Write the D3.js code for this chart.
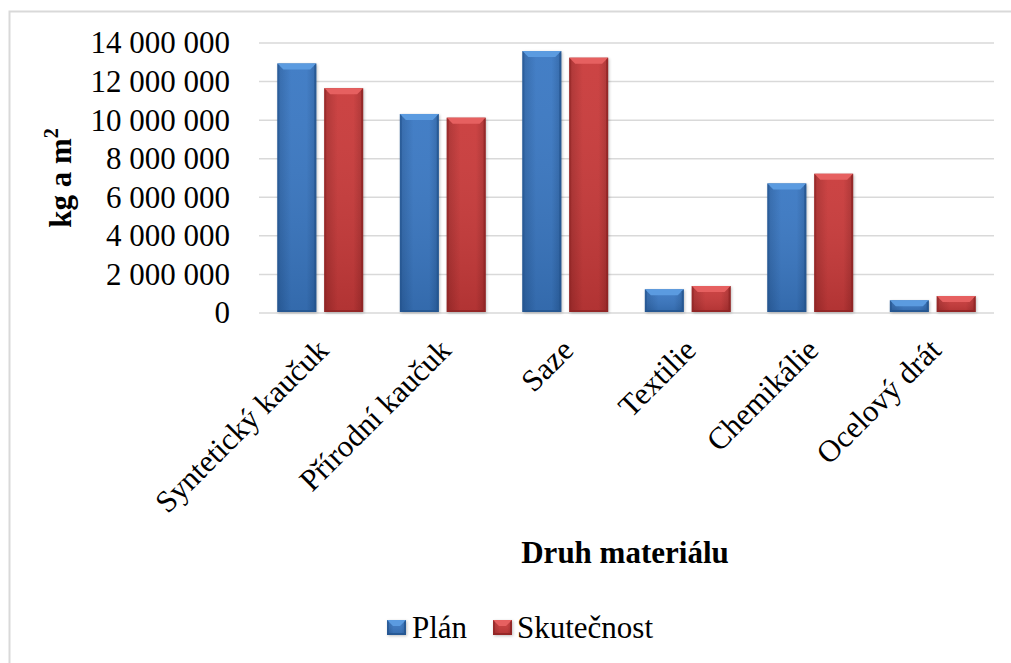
<!DOCTYPE html>
<html>
<head>
<meta charset="utf-8">
<script src="https://cdn.jsdelivr.net/npm/d3@7"></script>
<style>
  html, body { margin: 0; padding: 0; background: #fff; }
  svg { display: block; }
  svg text { font-family: 'Times New Roman', 'Liberation Serif', Tinos, 'DejaVu Serif', serif; fill: #000; }
</style>
</head>
<body>
<svg id="chart" width="1011" height="663"></svg>
<script>
// Material categories and yearly quantities (kg and m²)
const categories = ["Syntetický kaučuk", "Přírodní kaučuk", "Saze", "Textilie", "Chemikálie", "Ocelový drát"];
const seriesNames = ["Plán", "Skutečnost"];
const planValues = [12940000, 10320000, 13580000, 1230000, 6720000, 660000];
const actualValues = [11660000, 10130000, 13240000, 1400000, 7220000, 880000];
const yTicks = [0, 2000000, 4000000, 6000000, 8000000, 10000000, 12000000, 14000000];

const seriesValues = [planValues, actualValues];
const palette = [
  { base: "#3a78c3", light: "#5b9be0", dark: "#24558f", edge: "#2c63a6" },
  { base: "#c93a3a", light: "#e66060", dark: "#8f2424", edge: "#a82d2d" }
];

const svg = d3.select("#chart");
const W = 1011, H = 663;
const plot = { left: 259, right: 994, top: 43, bottom: 313 };

// Chart area frame
svg.append("rect")
  .attr("x", 9.5).attr("y", 11.5)
  .attr("width", W + 20).attr("height", H + 20)
  .attr("fill", "#fff").attr("stroke", "#d9d9d9").attr("stroke-width", 2);

const defs = svg.append("defs");
palette.forEach((p, i) => {
  const g = defs.append("linearGradient").attr("id", "grad" + i)
    .attr("x1", "0").attr("x2", "1").attr("y1", "0").attr("y2", "0");
  g.append("stop").attr("offset", "0%").attr("stop-color", p.edge);
  g.append("stop").attr("offset", "35%").attr("stop-color", p.base);
  g.append("stop").attr("offset", "75%").attr("stop-color", p.base);
  g.append("stop").attr("offset", "100%").attr("stop-color", p.edge);
  const v = defs.append("linearGradient").attr("id", "vgrad" + i)
    .attr("x1", "0").attr("x2", "0").attr("y1", "0").attr("y2", "1");
  v.append("stop").attr("offset", "0%").attr("stop-color", "#fff").attr("stop-opacity", 0.05);
  v.append("stop").attr("offset", "100%").attr("stop-color", "#000").attr("stop-opacity", 0.12);
});
const shadow = defs.append("filter").attr("id", "shadow")
  .attr("x", "-20%").attr("y", "-20%").attr("width", "140%").attr("height", "140%");
shadow.append("feGaussianBlur").attr("stdDeviation", 1.5);

const y = d3.scaleLinear().domain([0, 14000000]).range([plot.bottom, plot.top]);
const x0 = d3.scaleBand().domain(categories).range([plot.left, plot.right])
  .paddingInner(0.3).paddingOuter(0.15);
const x1 = d3.scaleBand().domain(seriesNames).range([0, x0.bandwidth()]).paddingInner(0.17);

const fmt = v => d3.format(",")(v).replace(/,/g, " ");

// Horizontal gridlines
svg.append("g").selectAll("line").data(yTicks).join("line")
  .attr("x1", plot.left).attr("x2", plot.right)
  .attr("y1", d => y(d)).attr("y2", d => y(d))
  .attr("stroke", "#d9d9d9").attr("stroke-width", 1.5);

// Y tick labels
const yAxis = d3.axisLeft(y).tickValues(yTicks).tickFormat(fmt).tickSize(0).tickPadding(0);
const ya = svg.append("g").attr("transform", `translate(230,0)`).call(yAxis)
  .attr("font-family", null).attr("font-size", null);
ya.select(".domain").remove();
ya.selectAll("text").attr("font-size", 31).attr("fill", "#000");

// Beveled bar
function drawBar(g, bx, by, bw, bh, p, i) {
  if (bh <= 0) return;
  const b = Math.min(6, bh / 2);
  g.append("rect").attr("x", bx + 1).attr("y", by + 1).attr("width", bw).attr("height", bh)
    .attr("fill", "#000").attr("opacity", 0.25).attr("filter", "url(#shadow)");
  g.append("rect").attr("x", bx).attr("y", by).attr("width", bw).attr("height", bh)
    .attr("fill", `url(#grad${i})`);
  g.append("rect").attr("x", bx).attr("y", by).attr("width", bw).attr("height", bh)
    .attr("fill", `url(#vgrad${i})`);
  // top bevel
  g.append("polygon")
    .attr("points", [[bx, by], [bx + bw, by], [bx + bw - b, by + b], [bx + b, by + b]].map(d => d.join(",")).join(" "))
    .attr("fill", p.light);
  // side bevels
  const s = 2;
  g.append("polygon")
    .attr("points", [[bx, by], [bx + s, by + s], [bx + s, by + bh - s], [bx, by + bh]].map(d => d.join(",")).join(" "))
    .attr("fill", p.dark).attr("opacity", 0.6);
  g.append("polygon")
    .attr("points", [[bx + bw, by], [bx + bw - s, by + s], [bx + bw - s, by + bh - s], [bx + bw, by + bh]].map(d => d.join(",")).join(" "))
    .attr("fill", p.dark).attr("opacity", 0.8);
  g.append("polygon")
    .attr("points", [[bx, by + bh], [bx + s, by + bh - s], [bx + bw - s, by + bh - s], [bx + bw, by + bh]].map(d => d.join(",")).join(" "))
    .attr("fill", p.dark).attr("opacity", 0.8);
}

const barsG = svg.append("g");
categories.forEach((c, ci) => {
  seriesNames.forEach((s, si) => {
    const v = seriesValues[si][ci];
    const bx = x0(c) + x1(s);
    const by = y(v);
    drawBar(barsG, bx, by, x1.bandwidth(), y(0) - 1 - by, palette[si], si);
  });
});

// Category labels, rotated
svg.append("g").selectAll("text").data(categories).join("text")
  .attr("transform", d => `translate(${x0(d) + x0.bandwidth() / 2 + 10},${352}) rotate(-45)`)
  .attr("text-anchor", "end")
  .attr("font-size", 31)
  .text(d => d);

// Axis titles
const yt = svg.append("text")
  .attr("transform", "translate(71,178) rotate(-90)")
  .attr("text-anchor", "middle")
  .attr("font-size", 31).attr("font-weight", "bold");
yt.append("tspan").text("kg a m");
yt.append("tspan").attr("font-size", 20).attr("dy", -13).text("2");

svg.append("text")
  .attr("x", 625).attr("y", 563)
  .attr("text-anchor", "middle")
  .attr("font-size", 31).attr("font-weight", "bold")
  .text("Druh materiálu");

// Legend
const legendItems = [
  { name: seriesNames[0], sx: 387, tx: 412 },
  { name: seriesNames[1], sx: 493, tx: 517 }
];
legendItems.forEach((d, i) => {
  const lg = svg.append("g");
  drawBar(lg, d.sx, 620, 19, 15, palette[i], i);
  lg.append("text").attr("x", d.tx).attr("y", 638).attr("font-size", 31).text(d.name);
});
</script>
</body>
</html>
